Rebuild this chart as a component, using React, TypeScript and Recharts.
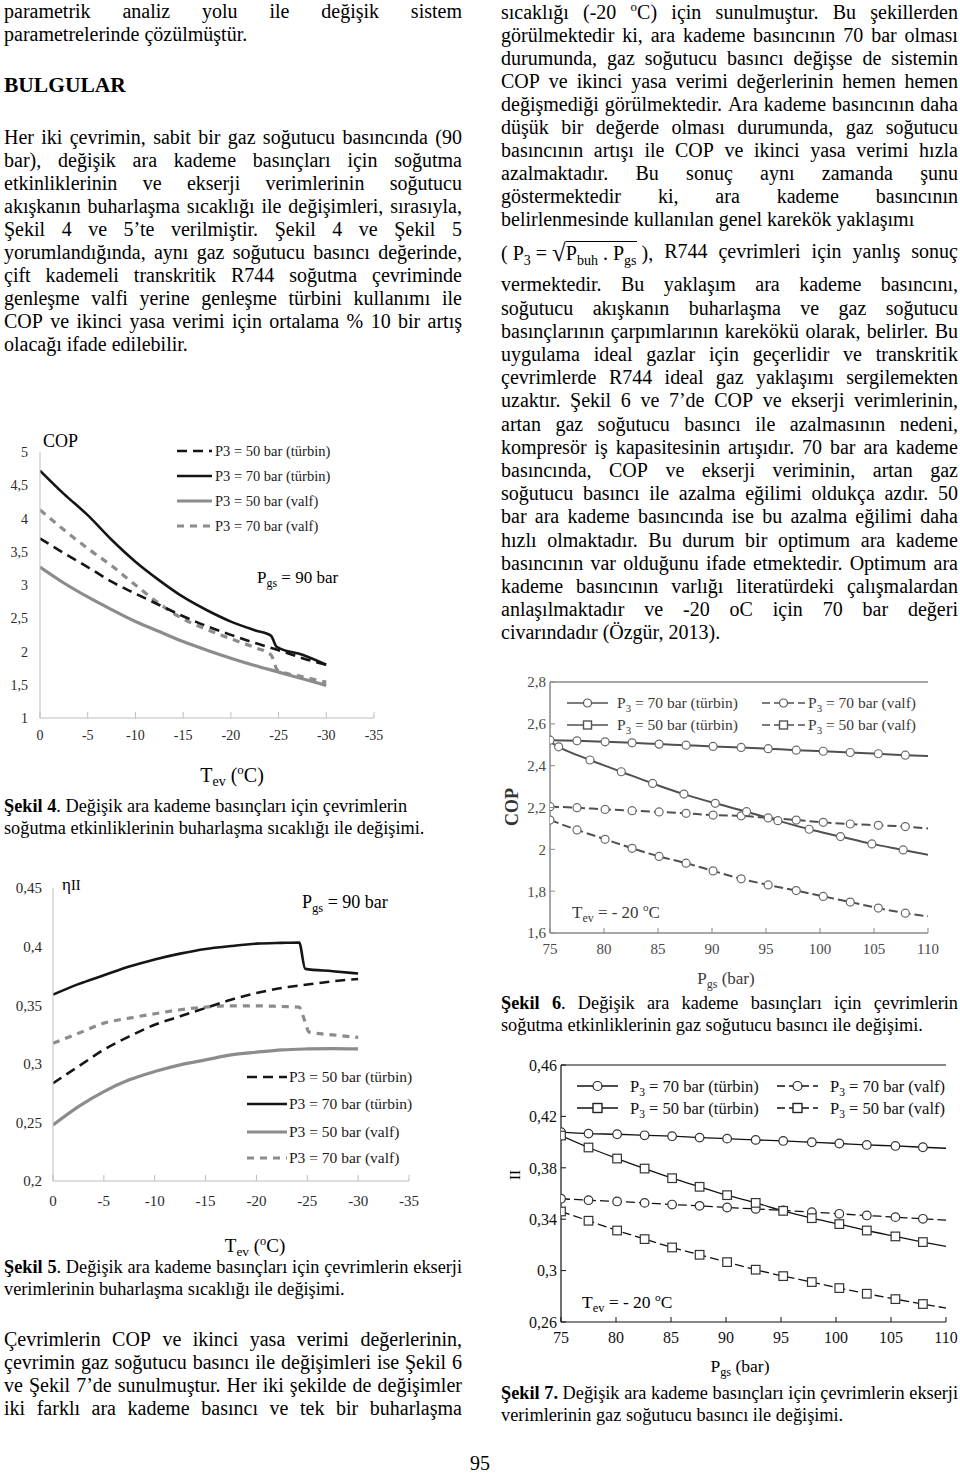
import React from 'react';
import { LineChart, Line, XAxis, YAxis, Legend } from 'recharts';

const FONT = '"Liberation Serif", "Times New Roman", Times, serif';

// ---------------- Şekil 4 : COP vs Tev ----------------
const fig4Tev70T = [0, -2.5, -5, -7.5, -10, -12.5, -15, -17.5, -20, -22.5, -24.2, -24.8, -27.5, -30];
const fig4Cop70T = [4.72, 4.37, 4.05, 3.68, 3.35, 3.07, 2.82, 2.62, 2.45, 2.32, 2.24, 2.07, 1.95, 1.8];
const fig4Tev50T = [0, -2.5, -5, -7.5, -10, -12.5, -15, -17.5, -20, -22.5, -25, -27.5, -30];
const fig4Cop50T = [3.7, 3.48, 3.27, 3.05, 2.87, 2.7, 2.53, 2.38, 2.25, 2.13, 2.02, 1.9, 1.8];
const fig4Tev70V = [0, -2.5, -5, -7.5, -10, -12.5, -15, -17.5, -20, -22.5, -24.2, -24.9, -27.5, -30];
const fig4Cop70V = [4.13, 3.83, 3.55, 3.29, 3.0, 2.72, 2.49, 2.33, 2.19, 2.06, 1.95, 1.72, 1.62, 1.54];
const fig4Tev50V = [0, -2.5, -5, -7.5, -10, -12.5, -15, -17.5, -20, -22.5, -25, -27.5, -30];
const fig4Cop50V = [3.27, 3.03, 2.82, 2.63, 2.45, 2.3, 2.15, 2.02, 1.9, 1.79, 1.69, 1.59, 1.49];
const fig4YTicks = [1, 1.5, 2, 2.5, 3, 3.5, 4, 4.5, 5];

// ---------------- Şekil 5 : ηII vs Tev ----------------
const fig5Tev70T = [0, -2.5, -5, -7.5, -10, -12.5, -15, -17.5, -20, -22.5, -24.2, -24.8, -27.5, -30];
const fig5Eta70T = [0.359, 0.368, 0.3755, 0.383, 0.389, 0.394, 0.398, 0.4005, 0.4025, 0.4032, 0.4035, 0.381, 0.379, 0.377];
const fig5Tev50T = [0, -2.5, -5, -7.5, -10, -12.5, -15, -17.5, -20, -22.5, -25, -27.5, -30];
const fig5Eta50T = [0.2834, 0.2977, 0.312, 0.3234, 0.3333, 0.3405, 0.3476, 0.3547, 0.3604, 0.3647, 0.3676, 0.3704, 0.3724];
const fig5Tev70V = [0, -2.5, -5, -7.5, -10, -12.5, -15, -17.5, -20, -22.5, -24.2, -24.6, -25.2, -27.5, -30];
const fig5Eta70V = [0.3176, 0.326, 0.3347, 0.339, 0.3427, 0.3461, 0.3484, 0.3495, 0.3495, 0.3489, 0.3484, 0.3404, 0.327, 0.3247, 0.3225];
const fig5Tev50V = [0, -2.5, -5, -7.5, -10, -12.5, -15, -17.5, -20, -22.5, -25, -27.5, -30];
const fig5Eta50V = [0.2478, 0.2635, 0.2763, 0.2863, 0.2934, 0.2991, 0.3033, 0.3076, 0.3099, 0.3119, 0.3127, 0.313, 0.3127];
const fig5YTicks = [0.2, 0.25, 0.3, 0.35, 0.4, 0.45];

const tevTicks = [0, -5, -10, -15, -20, -25, -30, -35];

// ---------------- Şekil 6 : COP vs Pgs ----------------
const pgsX = [75, 77.5, 80.1, 82.6, 85.1, 87.6, 90.1, 92.7, 95.2, 97.8, 100.3, 102.8, 105.4, 107.9, 110];
const fig6Cop70T = [2.522, 2.519, 2.514, 2.509, 2.503, 2.498, 2.492, 2.487, 2.481, 2.474, 2.469, 2.463, 2.457, 2.45, 2.446];
const fig6Cop70V = [2.204, 2.199, 2.191, 2.185, 2.179, 2.172, 2.164, 2.16, 2.15, 2.14, 2.129, 2.121, 2.115, 2.109, 2.1];
const fig6X50T = [75, 75.8, 78.7, 81.6, 84.5, 87.4, 90.3, 93.2, 96.1, 99.0, 101.9, 104.8, 107.7, 110];
const fig6Cop50T = [2.514, 2.49, 2.427, 2.371, 2.315, 2.264, 2.22, 2.18, 2.137, 2.096, 2.061, 2.026, 1.997, 1.974];
const fig6Cop50V = [2.14, 2.093, 2.048, 2.005, 1.966, 1.934, 1.897, 1.859, 1.83, 1.803, 1.775, 1.748, 1.719, 1.695, 1.68];
const fig6YTicks = [1.6, 1.8, 2, 2.2, 2.4, 2.6, 2.8];

// ---------------- Şekil 7 : ηII vs Pgs ----------------
const fig7Eta70T = [0.4077, 0.4066, 0.4061, 0.4053, 0.4046, 0.4035, 0.4027, 0.4017, 0.4009, 0.3999, 0.3989, 0.3978, 0.397, 0.396, 0.3952];
const fig7Eta70V = [0.3559, 0.3548, 0.3538, 0.3527, 0.3514, 0.3504, 0.3491, 0.348, 0.3468, 0.3455, 0.3442, 0.3429, 0.3416, 0.3403, 0.3393];
const fig7Eta50T = [0.4051, 0.3958, 0.3872, 0.3794, 0.3719, 0.3652, 0.3587, 0.3527, 0.3465, 0.3408, 0.3362, 0.3312, 0.3266, 0.3222, 0.3188];
const fig7Eta50V = [0.346, 0.3388, 0.3312, 0.3245, 0.318, 0.3123, 0.3066, 0.3007, 0.2957, 0.2911, 0.2864, 0.282, 0.2778, 0.274, 0.2709];
const fig7YTicks = [0.26, 0.3, 0.34, 0.38, 0.42, 0.46];

const pgsTicks = [75, 80, 85, 90, 95, 100, 105, 110];

const legendAB = ['P3 = 50 bar (türbin)', 'P3 = 70 bar (türbin)', 'P3 = 50 bar (valf)', 'P3 = 70 bar (valf)'];
const legendCD = [' = 70 bar (türbin)', ' = 70 bar (valf)', ' = 50 bar (türbin)', ' = 50 bar (valf)'];

// ---------------- page text ----------------
const leftTop = ['parametrik analiz yolu ile değişik sistem', 'parametrelerinde çözülmüştür.'];
const leftPara = [
  'Her iki çevrimin, sabit bir gaz soğutucu basıncında (90',
  'bar), değişik ara kademe basınçları için soğutma',
  'etkinliklerinin ve ekserji verimlerinin soğutucu',
  'akışkanın buharlaşma sıcaklığı ile değişimleri, sırasıyla,',
  'Şekil 4 ve 5’te verilmiştir. Şekil 4 ve Şekil 5',
  'yorumlandığında, aynı gaz soğutucu basıncı değerinde,',
  'çift kademeli transkritik R744 soğutma çevriminde',
  'genleşme valfi yerine genleşme türbini kullanımı ile',
  'COP ve ikinci yasa verimi için ortalama % 10 bir artış',
  'olacağı ifade edilebilir.',
];
const rightParaA = [
  'sıcaklığı (-20 ^oC) için sunulmuştur. Bu şekillerden',
  'görülmektedir ki, ara kademe basıncının 70 bar olması',
  'durumunda, gaz soğutucu basıncı değişse de sistemin',
  'COP ve ikinci yasa verimi değerlerinin hemen hemen',
  'değişmediği görülmektedir. Ara kademe basıncının daha',
  'düşük bir değerde olması durumunda, gaz soğutucu',
  'basıncının artışı ile COP ve ikinci yasa verimi hızla',
  'azalmaktadır. Bu sonuç aynı zamanda şunu',
  'göstermektedir ki, ara kademe basıncının',
  'belirlenmesinde kullanılan genel karekök yaklaşımı',
];
const formulaTail = 'R744 çevrimleri için yanlış sonuç';
const rightParaB = [
  'vermektedir. Bu yaklaşım ara kademe basıncını,',
  'soğutucu akışkanın buharlaşma ve gaz soğutucu',
  'basınçlarının çarpımlarının karekökü olarak, belirler. Bu',
  'uygulama ideal gazlar için geçerlidir ve transkritik',
  'çevrimlerde R744 ideal gaz yaklaşımı sergilemekten',
  'uzaktır. Şekil 6 ve 7’de COP ve ekserji verimlerinin,',
  'artan gaz soğutucu basıncı ile azalmasının nedeni,',
  'kompresör iş kapasitesinin artışıdır. 70 bar ara kademe',
  'basıncında, COP ve ekserji veriminin, artan gaz',
  'soğutucu basıncı ile azalma eğilimi oldukça azdır. 50',
  'bar ara kademe basıncında ise bu azalma eğilimi daha',
  'hızlı olmaktadır. Bu durum bir optimum ara kademe',
  'basıncının var olduğunu ifade etmektedir. Optimum ara',
  'kademe basıncının varlığı literatürdeki çalışmalardan',
  'anlaşılmaktadır ve -20 oC için 70 bar değeri',
  'civarındadır (Özgür, 2013).',
];
const bottomPara = [
  'Çevrimlerin COP ve ikinci yasa verimi değerlerinin,',
  'çevrimin gaz soğutucu basıncı ile değişimleri ise Şekil 6',
  've Şekil 7’de sunulmuştur. Her iki şekilde de değişimler',
  'iki farklı ara kademe basıncı ve tek bir buharlaşma',
];
const cap4 = ['Değişik ara kademe basınçları için çevrimlerin', 'soğutma etkinliklerinin buharlaşma sıcaklığı ile değişimi.'];
const cap5 = ['Değişik ara kademe basınçları için çevrimlerin ekserji', 'verimlerinin buharlaşma sıcaklığı ile değişimi.'];
const cap6 = ['Değişik ara kademe basınçları için çevrimlerin', 'soğutma etkinliklerinin gaz soğutucu basıncı ile değişimi.'];
const cap7 = ['Değişik ara kademe basınçları için çevrimlerin ekserji', 'verimlerinin gaz soğutucu basıncı ile değişimi.'];

// ---------------- helpers ----------------
const zip = (xs: number[], ys: number[]) => xs.map((x, i) => ({ x, v: ys[i] }));
const fmt = (v: number) => String(Math.round(v * 1000) / 1000).replace('.', ',');

const Sub = ({ children }: any) => (
  <span style={{ fontSize: '0.7em', position: 'relative', top: '0.3em' }}>{children}</span>
);
const Sup = ({ children }: any) => (
  <span style={{ fontSize: '0.65em', position: 'relative', top: '-0.6em' }}>{children}</span>
);

function parseWord(w: string) {
  const i = w.indexOf('^');
  if (i < 0) return w;
  return (
    <>
      {w.slice(0, i)}
      <Sup>{w[i + 1]}</Sup>
      {w.slice(i + 2)}
    </>
  );
}

function Row({ x, cy, w, size = 20, h = 23, justify = true, words, bold = false }: any) {
  const top = cy + 2 - ((h - size * 1.107) / 2 + size * 0.891 - size * 0.23);
  return (
    <div
      style={{
        position: 'absolute', left: x, top, width: w, height: h, lineHeight: `${h}px`, fontSize: size,
        whiteSpace: 'nowrap', display: 'flex', justifyContent: justify ? 'space-between' : 'flex-start',
        columnGap: justify ? 0 : '0.25em', fontWeight: bold ? 700 : 400,
      }}
    >
      {words.map((wd: any, i: number) => (
        <span key={i}>{wd}</span>
      ))}
    </div>
  );
}
const split = (s: string) => s.split(' ').map(parseWord);

function Tx({ x, cy, size, anchor = 'start', rotate = 0, bold = false, color = '#000', lh = 1.15, children }: any) {
  const tx = anchor === 'middle' ? '-50%' : anchor === 'end' ? '-100%' : '0';
  return (
    <div
      style={{
        position: 'absolute', left: x, top: cy, fontSize: size, lineHeight: lh, whiteSpace: 'nowrap',
        fontWeight: bold ? 700 : 400, color,
        transform: `translate(${tx}, -50%)${rotate ? ` rotate(${rotate}deg)` : ''}`,
      }}
    >
      {children}
    </div>
  );
}

function xTick(o: { off: number; inner: number; stroke: string; size: number; color: string }) {
  return (p: any) => {
    const { x, y, payload } = p;
    const ay = y - o.off;
    return (
      <g>
        {o.inner > 0 && <line x1={x} x2={x} y1={ay} y2={ay - o.inner} stroke={o.stroke} strokeWidth={1} />}
        <text x={x} y={y} dy="0.71em" textAnchor="middle" fontSize={o.size} fontFamily={FONT} fill={o.color}>
          {fmt(payload.value)}
        </text>
      </g>
    );
  };
}
function yTick(o: { off: number; inner: number; stroke: string; size: number; color: string }) {
  return (p: any) => {
    const { x, y, payload } = p;
    const ax = x + o.off;
    return (
      <g>
        {o.inner > 0 && <line x1={ax} x2={ax + o.inner} y1={y} y2={y} stroke={o.stroke} strokeWidth={1} />}
        <text x={x} y={y} dy="0.36em" textAnchor="end" fontSize={o.size} fontFamily={FONT} fill={o.color}>
          {fmt(payload.value)}
        </text>
      </g>
    );
  };
}

function makeDot(shape: 'circle' | 'square', r: number, stroke: string, sw: number, skip: number[]) {
  return (p: any) => {
    const { cx, cy, index } = p;
    if (cx == null || cy == null || skip.includes(index)) return <g key={`e${index}`} />;
    if (shape === 'circle')
      return <circle key={`c${index}`} cx={cx} cy={cy} r={r} fill="#fff" stroke={stroke} strokeWidth={sw} />;
    return (
      <rect key={`s${index}`} x={cx - r} y={cy - r} width={2 * r} height={2 * r} fill="#fff" stroke={stroke} strokeWidth={sw} />
    );
  };
}

// ---------- styles of the Şekil 4 / 5 series (order = legendAB) ----------
const BLACK = '#151515';
const GRAY = '#8c8c8c';
const abStyle = [
  { stroke: BLACK, width: 2.6, dash: '10 6' },
  { stroke: BLACK, width: 2.6, dash: undefined },
  { stroke: GRAY, width: 3.2, dash: undefined },
  { stroke: GRAY, width: 3.2, dash: '7 6' },
];

function legendABContent(W: number, H: number, rows: number[], x1: number, x2: number, tx: number, size: number) {
  return () => (
    <svg width={W} height={H} style={{ display: 'block' }}>
      {abStyle.map((s, i) => (
        <g key={i}>
          <line x1={x1} x2={x2} y1={rows[i]} y2={rows[i]} stroke={s.stroke} strokeWidth={s.width} strokeDasharray={s.dash} />
          <text x={tx} y={rows[i]} dy="0.35em" fontSize={size} fontFamily={FONT} fill="#1a1a1a">
            {legendAB[i]}
          </text>
        </g>
      ))}
    </svg>
  );
}

function legendCDContent(
  W: number, H: number, rows: number[], cols: { x1: number; x2: number; tx: number }[],
  size: number, color: string, lineColor: string, mStroke: string, r: number, dash: string,
) {
  const items = [
    { row: 0, col: 0, shape: 'circle', dash: undefined },
    { row: 0, col: 1, shape: 'circle', dash },
    { row: 1, col: 0, shape: 'square', dash: undefined },
    { row: 1, col: 1, shape: 'square', dash },
  ];
  return () => (
    <svg width={W} height={H} style={{ display: 'block' }}>
      {items.map((it, i) => {
        const c = cols[it.col];
        const y = rows[it.row];
        const mx = (c.x1 + c.x2) / 2;
        return (
          <g key={i}>
            <line x1={c.x1} x2={c.x2} y1={y} y2={y} stroke={lineColor} strokeWidth={1.4} strokeDasharray={it.dash} />
            {it.shape === 'circle' ? (
              <circle cx={mx} cy={y} r={r} fill="#fff" stroke={mStroke} strokeWidth={1.2} />
            ) : (
              <rect x={mx - r} y={y - r} width={2 * r} height={2 * r} fill="#fff" stroke={mStroke} strokeWidth={1.4} />
            )}
            <text x={c.tx} y={y} dy="0.35em" fontSize={size} fontFamily={FONT} fill={color}>
              <tspan>P</tspan>
              <tspan dy={4} fontSize={size * 0.7}>3</tspan>
              <tspan dy={-4}>{legendCD[i]}</tspan>
            </text>
          </g>
        );
      })}
    </svg>
  );
}

// ---------------- charts ----------------
function Fig4() {
  const W = 480, H = 370;
  const tickX = xTick({ off: 12, inner: 6, stroke: '#bdbdbd', size: 14, color: '#2a2a2a' });
  const tickY = yTick({ off: 12, inner: 0, stroke: '#bdbdbd', size: 14, color: '#2a2a2a' });
  const series = [
    { d: zip(fig4Tev50V, fig4Cop50V), s: abStyle[2] },
    { d: zip(fig4Tev70V, fig4Cop70V), s: abStyle[3] },
    { d: zip(fig4Tev50T, fig4Cop50T), s: abStyle[0] },
    { d: zip(fig4Tev70T, fig4Cop70T), s: abStyle[1] },
  ];
  return (
    <LineChart width={W} height={H} margin={{ top: 27, right: 106, bottom: 47, left: 0 }}>
      <XAxis type="number" dataKey="x" domain={[-35, 0]} reversed ticks={tevTicks} interval={0} height={30}
        tickSize={6} tickMargin={6} tickLine={false} axisLine={{ stroke: '#bdbdbd' }} tick={tickX} allowDataOverflow />
      <YAxis type="number" domain={[1, 5]} ticks={fig4YTicks} interval={0} width={40} tickSize={6} tickMargin={6}
        tickLine={false} axisLine={{ stroke: '#bdbdbd' }} tick={tickY} allowDataOverflow />
      {series.map((sr, i) => (
        <Line key={i} data={sr.d} dataKey="v" type="monotone" stroke={sr.s.stroke} strokeWidth={sr.s.width}
          strokeDasharray={sr.s.dash} dot={false} activeDot={false} isAnimationActive={false} />
      ))}
      <Legend verticalAlign="middle" align="center" layout="horizontal"
        wrapperStyle={{ left: 0, top: 0, width: W, height: H, pointerEvents: 'none' }}
        content={legendABContent(W, H, [26, 51, 76, 101], 177, 212, 215, 14.5)} />
    </LineChart>
  );
}

function Fig5() {
  const W = 480, H = 400;
  const tickX = xTick({ off: 14, inner: 6, stroke: '#bdbdbd', size: 15, color: '#2a2a2a' });
  const tickY = yTick({ off: 11, inner: 0, stroke: '#bdbdbd', size: 15, color: '#2a2a2a' });
  const series = [
    { d: zip(fig5Tev50V, fig5Eta50V), s: abStyle[2] },
    { d: zip(fig5Tev70V, fig5Eta70V), s: abStyle[3] },
    { d: zip(fig5Tev50T, fig5Eta50T), s: abStyle[0] },
    { d: zip(fig5Tev70T, fig5Eta70T), s: abStyle[1] },
  ];
  return (
    <LineChart width={W} height={H} margin={{ top: 28, right: 71, bottom: 49, left: 0 }}>
      <XAxis type="number" dataKey="x" domain={[-35, 0]} reversed ticks={tevTicks} interval={0} height={30}
        tickSize={6} tickMargin={8} tickLine={false} axisLine={{ stroke: '#bdbdbd' }} tick={tickX} allowDataOverflow />
      <YAxis type="number" domain={[0.2, 0.45]} ticks={fig5YTicks} interval={0} width={53} tickSize={5} tickMargin={6}
        tickLine={false} axisLine={{ stroke: '#bdbdbd' }} tick={tickY} allowDataOverflow />
      {series.map((sr, i) => (
        <Line key={i} data={sr.d} dataKey="v" type="monotone" stroke={sr.s.stroke} strokeWidth={sr.s.width}
          strokeDasharray={sr.s.dash} dot={false} activeDot={false} isAnimationActive={false} />
      ))}
      <Legend verticalAlign="middle" align="center" layout="horizontal"
        wrapperStyle={{ left: 0, top: 0, width: W, height: H, pointerEvents: 'none' }}
        content={legendABContent(W, H, [217, 244, 272, 298], 247, 287, 289, 15.5)} />
    </LineChart>
  );
}

function FramedPgsChart(props: {
  W: number; H: number; margin: any; yDomain: number[]; yTicks: number[]; yWidth: number;
  frame: string; frameW: number; lineColor: string; lineW: number; mStroke: string; r: number; dash: string;
  tickSize: number; labelColor: string; series: { d: any[]; dash?: string; shape: 'circle' | 'square'; skip: number[] }[];
  legend: any; xOff: number; yOff: number;
}) {
  const p = props;
  const tickX = xTick({ off: p.xOff, inner: 5, stroke: p.frame, size: p.tickSize, color: p.labelColor });
  const tickY = yTick({ off: p.yOff, inner: 5, stroke: p.frame, size: p.tickSize, color: p.labelColor });
  return (
    <LineChart width={p.W} height={p.H} margin={p.margin}>
      <XAxis type="number" dataKey="x" domain={[75, 110]} ticks={pgsTicks} interval={0} height={25}
        tickSize={4} tickMargin={p.xOff - 4} tickLine={false} axisLine={{ stroke: p.frame, strokeWidth: p.frameW }}
        tick={tickX} allowDataOverflow />
      <XAxis xAxisId="top" orientation="top" mirror type="number" dataKey="x" domain={[75, 110]} ticks={pgsTicks}
        interval={0} tick={false} tickSize={5} tickLine={{ stroke: p.frame }} axisLine={{ stroke: p.frame, strokeWidth: p.frameW }}
        allowDataOverflow />
      <YAxis type="number" domain={p.yDomain} ticks={p.yTicks} interval={0} width={p.yWidth} tickSize={1}
        tickMargin={p.yOff - 1} tickLine={false} axisLine={{ stroke: p.frame, strokeWidth: p.frameW }} tick={tickY}
        allowDataOverflow />
      <YAxis yAxisId="right" orientation="right" mirror type="number" domain={p.yDomain} ticks={p.yTicks} interval={0}
        width={0} tick={false} tickSize={5} tickLine={{ stroke: p.frame }} axisLine={{ stroke: p.frame, strokeWidth: p.frameW }}
        allowDataOverflow />
      {p.series.map((sr, i) => (
        <Line key={i} data={sr.d} dataKey="v" type="monotone" stroke={p.lineColor} strokeWidth={p.lineW}
          strokeDasharray={sr.dash} dot={makeDot(sr.shape, p.r, p.mStroke, 1.2, sr.skip)} activeDot={false}
          isAnimationActive={false} />
      ))}
      <Legend verticalAlign="middle" align="center" layout="horizontal"
        wrapperStyle={{ left: 0, top: 0, width: p.W, height: p.H, pointerEvents: 'none' }} content={p.legend} />
    </LineChart>
  );
}

function Fig6() {
  const W = 465, H = 320;
  const last = pgsX.length - 1;
  const series = [
    { d: zip(pgsX, fig6Cop70T), shape: 'circle' as const, skip: [last] },
    { d: zip(pgsX, fig6Cop70V), shape: 'circle' as const, skip: [last], dash: '9 4' },
    { d: zip(fig6X50T, fig6Cop50T), shape: 'circle' as const, skip: [0, fig6X50T.length - 1] },
    { d: zip(pgsX, fig6Cop50V), shape: 'circle' as const, skip: [last], dash: '9 4' },
  ];
  return (
    <FramedPgsChart W={W} H={H} margin={{ top: 12, right: 32, bottom: 32, left: 0 }} yDomain={[1.6, 2.8]}
      yTicks={fig6YTicks} yWidth={55} frame="#8a8a8a" frameW={1.5} lineColor="#505050" lineW={2}
      mStroke="#6a6a6a" r={4} dash="9 4" tickSize={15} labelColor="#4a4a4a" series={series} xOff={10} yOff={4}
      legend={legendCDContent(W, H, [33, 55], [{ x1: 72, x2: 113, tx: 122 }, { x1: 267, x2: 310, tx: 313 }],
        15.5, '#3a3a3a', '#505050', '#555', 4, '8 4')} />
  );
}

function Fig7() {
  const W = 465, H = 330;
  const last = pgsX.length - 1;
  const series = [
    { d: zip(pgsX, fig7Eta70T), shape: 'circle' as const, skip: [last] },
    { d: zip(pgsX, fig7Eta70V), shape: 'circle' as const, skip: [last], dash: '9 4' },
    { d: zip(pgsX, fig7Eta50T), shape: 'square' as const, skip: [last] },
    { d: zip(pgsX, fig7Eta50V), shape: 'square' as const, skip: [last], dash: '9 4' },
  ];
  return (
    <FramedPgsChart W={W} H={H} margin={{ top: 15, right: 14, bottom: 33, left: 0 }} yDomain={[0.26, 0.46]}
      yTicks={fig7YTicks} yWidth={66} frame="#111" frameW={1.2} lineColor="#111" lineW={1.3}
      mStroke="#333" r={4.3} dash="9 4" tickSize={16} labelColor="#111" series={series} xOff={10} yOff={4}
      legend={legendCDContent(W, H, [36, 58], [{ x1: 82, x2: 123, tx: 135 }, { x1: 282, x2: 323, tx: 335 }],
        16.5, '#111', '#111', '#222', 4.5, '8 4')} />
  );
}

function Caption({ x, cy, w, num, boldDot, lines, justifyFirst }: any) {
  const first = [
    <b key="a">Şekil</b>,
    <span key="b">
      <b>{num}{boldDot ? '.' : ''}</b>
      {boldDot ? '' : '.'}
    </span>,
    ...lines[0].split(' '),
  ];
  return (
    <>
      <Row x={x} cy={cy} w={w} size={18.3} h={22} justify={justifyFirst} words={first} />
      <Row x={x} cy={cy + 22} w={w} size={18.3} h={22} justify={false} words={split(lines[1])} />
    </>
  );
}

export default function App() {
  const LX = 4, LW = 458, RX = 501, RW = 457;
  return (
    <div style={{ position: 'absolute', left: 0, top: 0, width: 960, height: 1479, background: '#fff',
      fontFamily: FONT, color: '#000', overflow: 'hidden' }}>
      {/* left column top */}
      <Row x={LX} cy={12} w={LW} words={split(leftTop[0])} />
      <Row x={LX} cy={35} w={LW} justify={false} words={split(leftTop[1])} />
      <Row x={LX} cy={85} w={LW} size={21.5} h={26} justify={false} bold words={['BULGULAR']} />
      {leftPara.map((l, i) => (
        <Row key={i} x={LX} cy={138 + 23 * i} w={LW} justify={i < leftPara.length - 1} words={split(l)} />
      ))}

      {/* right column */}
      {rightParaA.map((l, i) => (
        <Row key={i} x={RX} cy={12.7 + 23.03 * i} w={RW} justify={i < rightParaA.length - 1} words={split(l)} />
      ))}
      <Row x={RX} cy={252} w={RW} words={[
        <span key="f">
          ( P<Sub>3</Sub> ={' '}
          <span style={{ display: 'inline-block', position: 'relative' }}>
            <span style={{ fontSize: '1.25em', position: 'relative', top: '0.04em' }}>√</span>
            <span style={{ borderTop: '1px solid #000' }}>
              P<Sub>buh</Sub> . P<Sub>gs</Sub>
            </span>
          </span>{' '}
          ),
        </span>,
        ...formulaTail.split(' '),
      ]} />
      {rightParaB.map((l, i) => (
        <Row key={i} x={RX} cy={285 + 23.2 * i} w={RW} justify={i < rightParaB.length - 1} words={split(l)} />
      ))}

      {/* Şekil 4 */}
      <div style={{ position: 'absolute', left: 0, top: 425 }}>
        <Fig4 />
      </div>
      <Tx x={43} cy={441} size={18}>COP</Tx>
      <Tx x={257} cy={578} size={17}>P<Sub>gs</Sub> = 90 bar</Tx>
      <Tx x={232} cy={775} size={20} lh={1} anchor="middle">T<Sub>ev</Sub> (<Sup>o</Sup>C)</Tx>
      <Caption x={LX} cy={806} w={LW} num="4" boldDot={false} lines={cap4} justifyFirst={false} />

      {/* Şekil 5 */}
      <div style={{ position: 'absolute', left: 0, top: 860 }}>
        <Fig5 />
      </div>
      <Tx x={62} cy={885} size={17}>η<span style={{ fontSize: '0.85em' }}>II</span></Tx>
      <Tx x={302} cy={902} size={18}>P<Sub>gs</Sub> = 90 bar</Tx>
      <Tx x={255} cy={1245} size={19} lh={1} anchor="middle">T<Sub>ev</Sub> (<Sup>o</Sup>C)</Tx>
      <Caption x={LX} cy={1267} w={LW} num="5" boldDot={false} lines={cap5} justifyFirst={true} />

      {bottomPara.map((l, i) => (
        <Row key={i} x={LX} cy={1340 + 23 * i} w={LW} words={split(l)} />
      ))}

      {/* Şekil 6 */}
      <div style={{ position: 'absolute', left: 495, top: 670 }}>
        <Fig6 />
      </div>
      <Tx x={512} cy={807} size={18} bold rotate={-90} anchor="middle" color="#333">COP</Tx>
      <Tx x={572} cy={913} size={17} color="#3a3a3a">T<Sub>ev</Sub> = - 20 <Sup>o</Sup>C</Tx>
      <Tx x={726} cy={978} size={17} lh={1} anchor="middle" color="#3a3a3a">P<Sub>gs</Sub> (bar)</Tx>
      <Caption x={RX} cy={1003} w={RW} num="6" boldDot={false} lines={cap6} justifyFirst={true} />

      {/* Şekil 7 */}
      <div style={{ position: 'absolute', left: 495, top: 1050 }}>
        <Fig7 />
      </div>
      <Tx x={516} cy={1175} size={15} rotate={-90} anchor="middle">II</Tx>
      <Tx x={582} cy={1302} size={17.5}>T<Sub>ev</Sub> = - 20 <Sup>o</Sup>C</Tx>
      <Tx x={740} cy={1367} size={17.5} lh={1} anchor="middle">P<Sub>gs</Sub> (bar)</Tx>
      <Caption x={RX} cy={1393} w={RW} num="7" boldDot={true} lines={cap7} justifyFirst={true} />

      <Tx x={480} cy={1463} size={20} anchor="middle">95</Tx>
    </div>
  );
}
